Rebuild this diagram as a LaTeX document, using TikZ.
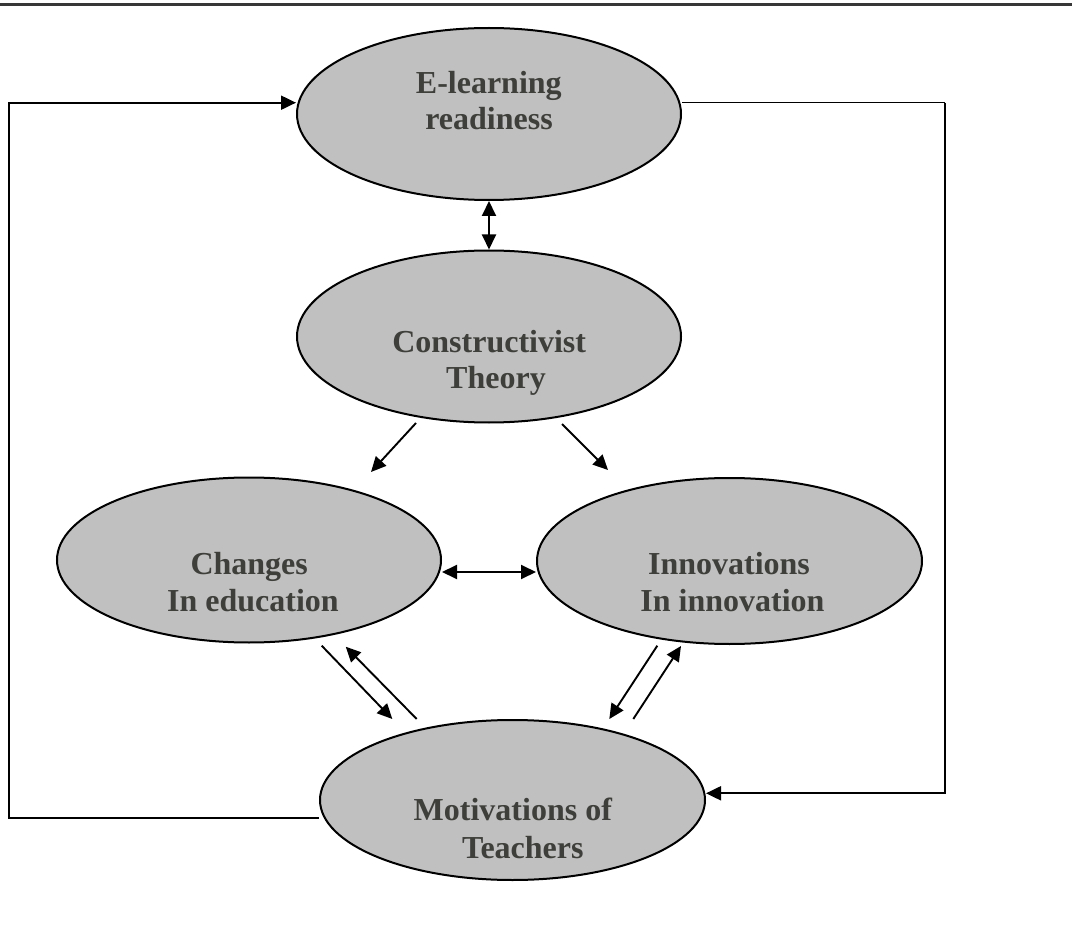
\documentclass[tikz,border=0pt]{standalone}
\usepackage{fontspec}
\setmainfont{Liberation Serif}
\usetikzlibrary{shapes.geometric,arrows.meta,calc}
\definecolor{bubblefill}{RGB}{192,192,192}
\definecolor{ink}{RGB}{62,62,58}
\definecolor{rule}{RGB}{55,55,55}
\begin{document}
\begin{tikzpicture}[x=1pt,y=-1pt,
  bubble/.style={ellipse,draw,line width=2pt,fill=bubblefill,inner sep=0pt},
  lbl/.style={anchor=base,inner sep=0pt,text=ink,font=\fontsize{32}{37}\selectfont\bfseries},
  tip/.style={-{Triangle[length=15pt,width=14pt]}},
  link/.style={line width=1.9pt,tip},
  both/.style={line width=1.9pt,{Triangle[length=15pt,width=14pt]}-{Triangle[length=15pt,width=14pt]}},
  loopline/.style={line width=2pt}]
\useasboundingbox (0,0) rectangle (1072,936);

% rule across the top
\coordinate (ruleL) at (0,4.5);
\coordinate (ruleR) at (1072,4.5);
\draw[rule,line width=3pt] (ruleL) -- (ruleR);

% the five concepts
\node[bubble,minimum width=384pt,minimum height=172pt] (el)   at (489,114)   {};
\node[bubble,minimum width=384pt,minimum height=172pt] (cons) at (489,336.5) {};
\node[bubble,minimum width=384pt,minimum height=165pt] (chg)  at (249,560)   {};
\node[bubble,minimum width=385pt,minimum height=166pt] (inn)  at (729.5,561) {};
\node[bubble,minimum width=385pt,minimum height=160pt] (mot)  at (512.5,800) {};

% labels, one node per line
\node[lbl] (el-a)   at (488.8,93.3)  {E-learning};
\node[lbl] (el-b)   at (489,130)     {readiness};
\node[lbl] (cons-a) at (489.2,352.3) {Constructivist};
\node[lbl] (cons-b) at (496,388.3)   {Theory};
\node[lbl] (chg-a)  at (249.2,574.3) {Changes};
\node[lbl] (chg-b)  at (253,611)     {In education};
\node[lbl] (inn-a)  at (729,574.3)   {Innovations};
\node[lbl] (inn-b)  at (732.5,611)   {In innovation};
\node[lbl] (mot-a)  at (512.8,820.7) {Motivations of};
\node[lbl] (mot-b)  at (522.8,858.3) {Teachers};

% two-way links touching the ellipses
\draw[both] (el.south) -- (cons.north);
\draw[both] ([yshift=-12pt]chg.east) -- ([yshift=-11pt]inn.west);

% free-standing diagonal arrows
\coordinate (c1s) at ($(cons)+(-73,86.5)$);
\coordinate (c1e) at ($(chg)+(122,-88)$);
\coordinate (c2s) at ($(cons)+(73,87.5)$);
\coordinate (c2e) at ($(inn)+(-121.5,-91)$);
\coordinate (m1s) at ($(chg)+(72.7,85.7)$);
\coordinate (m1e) at ($(mot)+(-120.2,-81)$);
\coordinate (m2s) at ($(mot)+(-95.8,-81)$);
\coordinate (m2e) at ($(chg)+(96.7,86.7)$);
\coordinate (m3s) at ($(inn)+(-72.2,84.7)$);
\coordinate (m3e) at ($(mot)+(96.8,-81)$);
\coordinate (m4s) at ($(mot)+(120.8,-81)$);
\coordinate (m4e) at ($(inn)+(-48.5,85)$);
\draw[link] (c1s) -- (c1e);
\draw[link] (c2s) -- (c2e);
\draw[link] (m1s) -- (m1e);
\draw[link] (m2s) -- (m2e);
\draw[link] (m3s) -- (m3e);
\draw[link] (m4s) -- (m4e);

% feedback loops around the outside
\coordinate (lt) at (9,102.7);
\draw[loopline,tip] ([yshift=-17.7pt]mot.west) -| (lt) -- ([yshift=11.3pt]el.west);
\coordinate (rt) at (945,102.7);
\coordinate (rb) at (945,793.3);
\draw[line width=1.3pt] ([yshift=11.3pt]el.east) -- (rt);
\draw[loopline,tip] (rt) -- (rb) -- ([yshift=6.7pt]mot.east);
\end{tikzpicture}
\end{document}
